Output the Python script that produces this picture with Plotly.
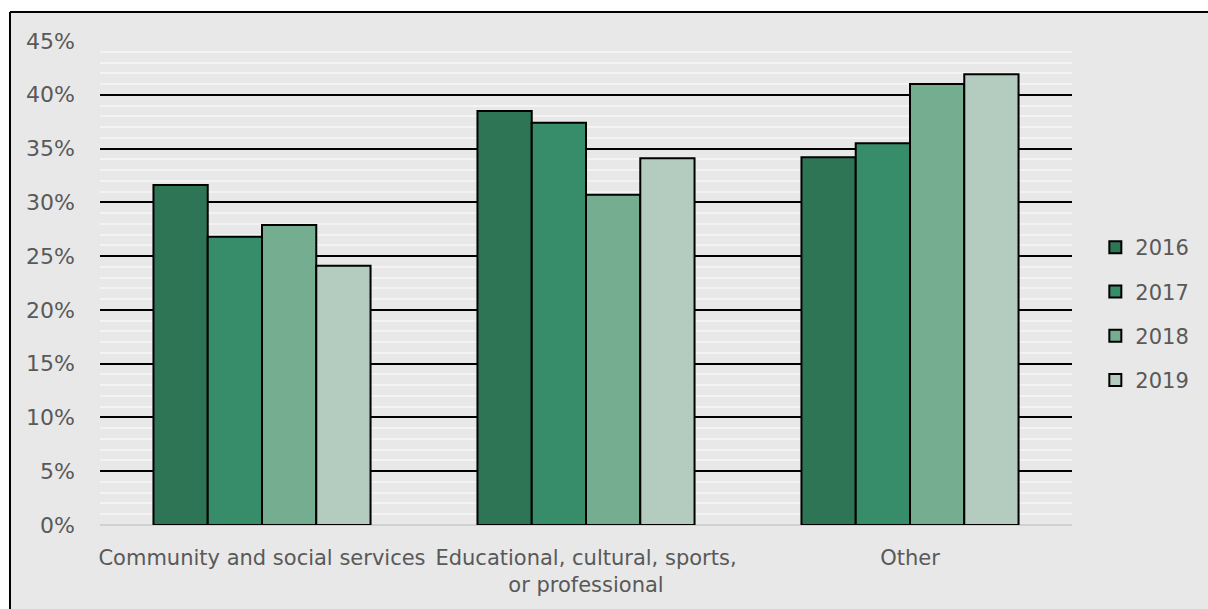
import plotly.graph_objects as go

categories = ["Community and social services", "Educational, cultural, sports,<br>or professional", "Other"]
years = ["2016", "2017", "2018", "2019"]
values_2016 = [31.6, 38.5, 34.2]
values_2017 = [26.8, 37.4, 35.5]
values_2018 = [27.9, 30.7, 41.0]
values_2019 = [24.1, 34.1, 41.9]
colors = ["#2E7556", "#378D6A", "#75AD91", "#B3CCBF"]
series = [values_2016, values_2017, values_2018, values_2019]

FONT = "DejaVu Sans"
TXT = "#595959"
BG = "#e8e8e8"

fig = go.Figure()
for yr, vals, col in zip(years, series, colors):
    fig.add_trace(go.Bar(
        x=categories, y=vals, name=yr, legendgroup=yr,
        marker=dict(color=col, line=dict(color="black", width=2)),
    ))

bx, by = -0.0926, 1.06
fig.update_layout(
    width=1208, height=609,
    margin=dict(l=100, r=136, t=41, b=84),
    paper_bgcolor=BG, plot_bgcolor=BG,
    barmode="group", bargap=0.33, bargroupgap=0,
    font=dict(family=FONT, size=21, color=TXT),
    legend=dict(x=1.024, y=0.436, xanchor="left", yanchor="middle",
                font=dict(size=21, color=TXT), tracegroupgap=14,
                bgcolor="rgba(0,0,0,0)", itemwidth=30),
    showlegend=True,
    shapes=[
        dict(type="rect", xref="paper", yref="paper", x0=-1, x1=2, y0=by, y1=2,
             fillcolor="white", line=dict(width=0), layer="below"),
        dict(type="rect", xref="paper", yref="paper", x0=-1, x1=bx, y0=-1, y1=2,
             fillcolor="white", line=dict(width=0), layer="below"),
        dict(type="line", xref="paper", yref="paper", x0=bx, x1=2, y0=by, y1=by,
             line=dict(color="black", width=2), layer="below"),
        dict(type="line", xref="paper", yref="paper", x0=bx, x1=bx, y0=by, y1=-1,
             line=dict(color="black", width=2), layer="below"),
    ],
)
fig.update_xaxes(showgrid=False, showline=False, ticks="", ticklabelstandoff=18,
                 tickfont=dict(size=21, color=TXT))
fig.update_yaxes(range=[0, 45], dtick=5, ticksuffix="%", showgrid=True,
                 gridcolor="black", gridwidth=2,
                 zeroline=True, zerolinecolor="#d0d0d0", zerolinewidth=2,
                 showline=False, ticks="", ticklabelstandoff=24,
                 tickfont=dict(size=22, color=TXT),
                 minor=dict(dtick=1, showgrid=True, gridcolor="#f3f3f3", gridwidth=2))

fig.write_html(
    "out.html",
    config={"displayModeBar": False},
    post_script=("document.documentElement.style.overflow='hidden';"
                 "document.body.style.margin='0';"
                 "document.body.style.overflow='hidden';"),
)
